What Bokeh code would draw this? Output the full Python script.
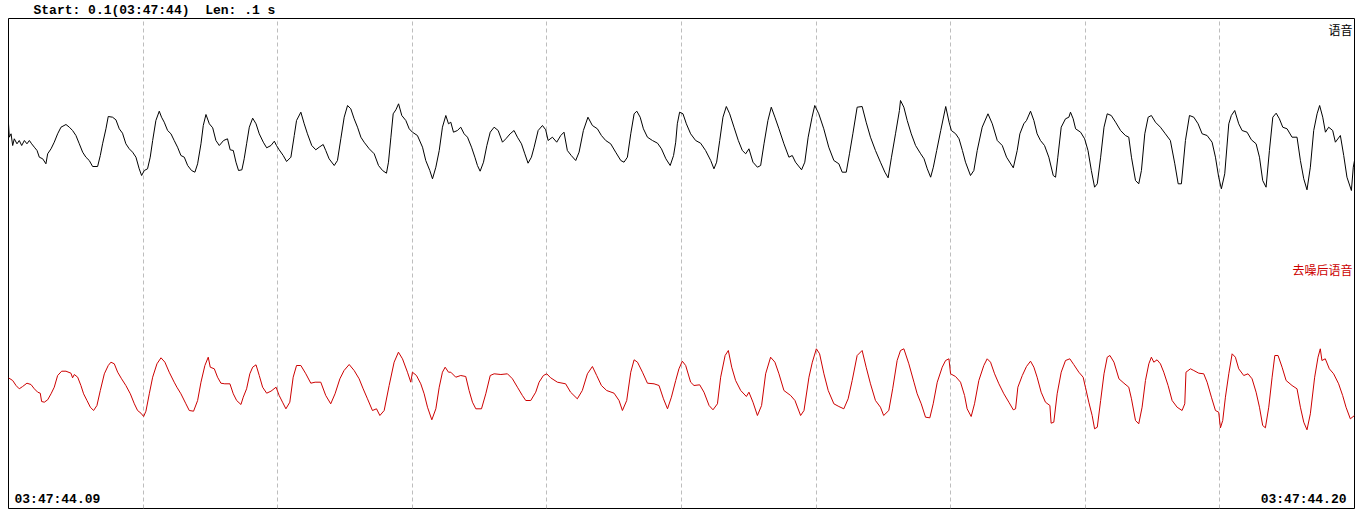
from bokeh.plotting import figure
from bokeh.models import Range1d, Label, FixedTicker
from bokeh.embed import file_html
from bokeh.resources import INLINE

# ---------------- data ----------------
title_text = "Start: 0.1(03:47:44)\u00a0\u00a0Len: .1 s"
start_label = "03:47:44.09"
end_label = "03:47:44.20"
channel_names = ["语音", "去噪后语音"]
grid_ms = [10, 20, 30, 40, 50, 60, 70, 80, 90]

# time in ms from window start, amplitude in display units
black_t = [0.0, 0.06, 0.19, 0.31, 0.43, 0.63, 0.80, 0.98, 1.18, 1.37, 1.55, 1.72, 1.92, 2.12, 2.29, 2.54, 2.78, 2.91,
           3.16, 3.40, 3.65, 3.90, 4.27, 4.52, 4.76, 5.01, 5.26, 5.51, 5.75, 6.00, 6.25, 6.62, 6.82, 6.99, 7.24, 7.41,
           7.73, 7.98, 8.23, 8.47, 8.72, 8.97, 9.22, 9.47, 9.71, 9.89, 10.09, 10.33, 10.53, 10.71, 10.95, 11.20, 11.37,
           11.57, 11.82, 12.07, 12.31, 12.56, 12.81, 13.06, 13.31, 13.60, 13.85, 14.05, 14.30, 14.47, 14.67, 14.92,
           15.17, 15.41, 15.66, 15.98, 16.27, 16.47,
           16.70, 16.90, 17.09, 17.34, 17.51, 17.69, 17.89, 18.14, 18.39, 18.63, 18.93, 19.18, 19.50, 19.75, 19.91,
           20.11, 20.41, 20.66, 20.98, 21.23, 21.40, 21.72, 21.97, 22.21, 22.53, 22.83, 23.08, 23.38, 23.57, 23.82,
           24.20, 24.44, 24.69, 24.94, 25.19, 25.43, 25.68, 25.93, 26.18, 26.42, 26.80, 27.17, 27.49, 27.79, 28.08,
           28.23, 28.41, 28.58, 28.78, 28.98, 29.22, 29.52, 29.77, 30.01, 30.38, 30.76, 31.00, 31.30, 31.50, 31.75,
           32.00, 32.24, 32.49, 32.69,
           32.86, 33.06, 33.35, 33.60, 33.85, 34.10, 34.40, 34.65, 34.84, 35.04, 35.29, 35.54, 35.79, 36.08, 36.38,
           36.70, 36.95, 37.27, 37.56, 37.81, 38.11, 38.36, 38.60, 38.85, 39.05, 39.35, 39.67, 39.91, 40.09, 40.41,
           40.73, 41.03, 41.27, 41.52, 41.81, 42.14, 42.39, 42.71, 43.05, 43.38, 43.75, 44.05, 44.37, 44.74, 45.11,
           45.49, 45.73, 45.98, 46.23, 46.48, 46.68, 46.93, 47.17, 47.47, 47.84, 48.22, 48.51, 48.84, 49.16, 49.41,
           49.57, 49.69, 49.86, 50.11, 50.36, 50.68, 51.05, 51.42, 51.79, 52.17, 52.41, 52.61, 52.84, 53.08, 53.33,
           53.58, 53.90, 54.22, 54.52, 54.77, 55.01, 55.31, 55.64, 55.88, 56.13, 56.42, 56.67, 56.94, 57.24, 57.61,
           57.98, 58.23, 58.47, 58.92, 59.16, 59.41, 59.70, 59.90, 60.20, 60.57, 60.94, 61.32, 61.69, 61.94, 62.24,
           62.48, 62.73, 63.05, 63.42, 63.72, 64.04, 64.41, 64.78, 65.11, 65.35, 65.60, 65.90, 66.19,
           66.27, 66.52, 66.77, 67.07, 67.39, 67.77, 68.02, 68.26, 68.51, 68.71, 68.96, 69.26, 69.63, 69.88, 70.05,
           70.37, 70.62, 70.87, 71.10, 71.47, 71.72, 71.97, 72.34, 72.77, 73.09, 73.46, 73.83, 74.15, 74.65, 74.94,
           75.14, 75.43, 75.63, 75.93, 76.18, 76.42, 76.67, 76.97, 77.29, 77.62, 77.79, 77.96, 78.21, 78.53, 78.78,
           78.90, 79.10, 79.28, 79.65, 79.95, 80.20, 80.45, 80.69, 80.89, 81.14, 81.39, 81.63, 81.93, 82.25, 82.62,
           82.98, 83.23, 83.43, 83.73, 83.97, 84.17, 84.42, 84.67, 84.91, 85.21, 85.58, 85.95, 86.32, 86.65, 86.90,
           87.14, 87.44, 87.74, 88.06, 88.38, 88.68, 89.05, 89.42, 89.67, 89.91, 90.11, 90.36, 90.66, 90.85, 91.10,
           91.40, 91.65, 92.02, 92.34, 92.69, 92.94, 93.18, 93.43, 93.68, 93.93, 94.18, 94.42, 94.67, 94.99, 95.36,
           95.73, 95.98, 96.23, 96.47, 96.72, 96.97, 97.22, 97.41, 97.64, 97.84, 98.08, 98.38, 98.58, 98.95, 99.20,
           99.44, 99.77, 99.91, 100.0]
black_v = [16.7, 3.3, 6.7, -5, 1.7, -3.3, 0, -5, 0, -3.3, 0, -3.3, -6.7, -10, -16.7, -18.3, -23.3, -13.3,
           -8.3, -1.7, 6.7, 13.3, 16, 13.3, 10, 5, -3.3, -11.7, -16.7, -20, -26, -26, -15, -3.3, 11.7, 24,
           23.3, 20.7, 11.7, 7.3, -3.3, -8.3, -11.7, -16.7, -28.3, -35, -30, -28.3, -16.7, 0, 20, 29.3, 23.3,
           18.3, 10, 6.7, 0, -6.7, -15, -16.7, -25, -30, -31.7, -23.3, -3.3, 15, 26, 16.7,
           12.7, 0, -5, 0, 1.7, -9.3,
           -10, -21.7, -30, -29.3, -18.3, -3.3, 13.3, 22.3, 16.7, 6.7, -1.7, -7.3, -5, -0.7, -5,
           -9.3, -15, -21, -16.7, 5, 20, 28.3, 16.7, 6.7, -5, -9.3, -6.7, -4, -10, -18.3,
           -25, -20, 1.7, 23.3, 35, 31.7, 21.7, 13.3, 3.3, -1.7, -8.3, -13.3, -25, -30, -32.7,
           -21.7, 3.3, 26.7, 30.7, 36.7, 25, 20, 11.7, 8.3, 5, -6.7, -20, -30, -38.3, -26.7,
           -10, 13.3, 25, 16.7,
           18.3, 8.3, 10, 13.3, 6.7, 3.3, -6.7, -16.7, -25, -30.7, -21.7, -5, 8.3, 13.3, 10,
           -1.7, 1.7, 6.7, 10, 3.3, -3.3, -13.3, -22.7, -16.7, -6.7, 10, 15, 10.7, 0, 3.3,
           -1.7, 5, 8.3, -10, -15, -20, -11.7, 10, 23.3, 15, 11.7, 5, 0, -3.3, -11.7,
           -20, -21.7, -16.7, 6.7, 26.7, 29.3, 23.3, 11.7, 3.3, 0, -2.7, -8.3, -18.3, -25, -15,
           -1.7, 16.7, 28.3, 26.7, 16.7, 6.7, 0, -2.7, -10, -20, -28.3, -21.7, 0, 23.3, 34,
           26.7, 13.3, 0, -10, -13.3, -8.3, -21.7, -26.7, -25, -3.3, 20, 33.3, 23.3, 11.7, -3.3,
           -16.7, -15, -21.7, -29.3, -21.7, 3.3, 23.3, 35, 26.7, 11.7, -6.7, -20, -23.3, -31.7, -31.7,
           -13.3, 6.7, 33.3, 34, 18.3, 3.3, -10, -21.7, -31.7, -37.3, -16.7, 6.7, 30,
           40, 33.3, 20, 6.7, -5, -13.3, -18.3, -28.3, -36.7, -26.7, -10, 10, 34, 18.3, 10,
           6.7, 1.7, -10, -21.7, -35, -30, -10, 13.3, 26.7, 16.7, 0, -5, -16.7, -27.3, -10,
           6.7, 16.7, 20, 29.3, 20, 6.7, 0, -5, -16.7, -35, -36.7, -16.7, 13.3, 21.7, 23.3,
           28.3, 21.7, 11.7, 8.3, 1.7, -10, -30, -46.7, -43.3, -16.7, 13.3, 26.7, 25, 18.3, 10,
           5, 3.3, -16.7, -40, -43.3, -30, 6.7, 23.3, 25, 18.3, 13.3, 6.7, 0, -23.3, -43.3,
           -43.3, 0, 25, 23.3, 16.7, 6.7, 5, -1.7, -16.7, -36.7, -48.3, -33.3, 16.7, 25, 30,
           16.7, 10, 8.3, 0.7, -3.3, -16.7, -40, -46.7, -10, 23.3, 27.3, 21.7, 13.3, 11.7, 3.3,
           3.3, -20, -38.3, -49.3, -26.7, 10, 26.7, 35, 23.3, 8.3, 13.3, 10, -1.7, 5, -15,
           -36.7, -50, -26.7, -20]

red_t = [0.0, 0.31, 0.56, 0.80, 1.05, 1.37, 1.67, 1.92, 2.17, 2.36, 2.46, 2.66, 2.91, 3.16, 3.40, 3.65, 3.95, 4.27,
         4.64, 4.76, 4.89, 5.14, 5.38, 5.58, 5.83, 6.08, 6.32, 6.57, 6.82, 7.12, 7.41, 7.61, 7.86, 8.11, 8.40, 8.72,
         9.05, 9.35, 9.59, 9.84, 10.04, 10.21, 10.46, 10.71, 11.03, 11.33, 11.62, 11.94, 12.31, 12.51, 12.81, 13.18,
         13.43, 13.75, 14.05, 14.30, 14.59, 14.84, 14.99, 15.29, 15.53, 15.78, 16.07,
         16.45, 16.70, 16.95, 17.27, 17.44, 17.69, 17.93, 18.14, 18.39, 18.63, 18.88, 19.18, 19.50, 19.88, 20.11,
         20.36, 20.61, 20.90, 21.15, 21.40, 21.72, 22.09, 22.46, 22.78, 23.20, 23.57, 23.94, 24.26, 24.62, 24.93,
         25.31, 25.68, 26.05, 26.35, 26.67, 27.04, 27.34, 27.59, 27.91, 28.28, 28.65, 28.97, 29.27, 29.64, 29.89,
         30.01, 30.31, 30.63, 30.88, 31.13, 31.45, 31.75, 32.00, 32.24, 32.44, 32.69,
         32.86, 33.23, 33.60, 33.97, 34.22, 34.47, 34.72, 35.14, 35.46, 35.79, 36.08, 36.58, 37.07, 37.44, 37.81,
         38.18, 38.43, 38.80, 39.17, 39.42, 39.74, 39.99, 40.28, 40.78, 41.39, 41.76, 42.26, 42.63, 43.01, 43.38,
         43.70, 44.05, 44.44, 44.99, 45.36, 45.61, 45.93, 46.23, 46.48, 46.73, 47.10, 47.47, 47.96, 48.33, 48.66,
         48.96, 49.25,
         49.57, 49.81, 50.06, 50.31, 50.68, 50.93, 51.35, 51.67, 52.05, 52.34, 52.67, 52.91, 53.24, 53.48, 53.73,
         54.02, 54.40, 54.82, 55.01, 55.31, 55.64, 55.95, 56.25, 56.62, 56.94, 57.24, 57.61, 58.11, 58.43, 58.85,
         59.10, 59.47, 59.72, 60.02, 60.26, 60.58, 60.90, 61.32, 61.69, 62.06, 62.38, 62.68, 63.05, 63.42, 63.72,
         64.04, 64.41, 64.78, 65.02, 65.40, 65.69, 66.02,
         66.27, 66.52, 66.89, 67.27, 67.51, 67.81, 68.13, 68.45, 68.70, 69.00, 69.37, 69.62, 69.87, 69.99, 70.36,
         70.73, 71.03, 71.22, 71.52, 71.77, 72.09, 72.46, 72.71, 72.96, 73.26, 73.58, 73.95, 74.32, 74.65, 74.82,
         74.99, 75.32, 75.63, 75.93, 76.18, 76.42, 76.72, 77.04, 77.37, 77.46, 77.66, 77.91, 78.21, 78.53, 78.85,
         79.14, 79.52, 79.84, 80.01, 80.26, 80.51, 80.69, 80.89, 81.14, 81.39, 81.63, 81.83, 82.13, 82.50, 82.87,
         83.23, 83.43, 83.73, 83.97, 84.22, 84.47, 84.72, 84.91, 85.09, 85.33, 85.58, 85.83, 86.15, 86.45, 86.82,
         87.19, 87.39, 87.48, 87.81, 88.06, 88.43, 88.80, 89.05, 89.37, 89.67, 89.91, 90.04, 90.21, 90.41, 90.66,
         90.91, 91.15, 91.40, 91.77, 92.09, 92.39, 92.69, 92.94, 93.18, 93.38, 93.63, 93.88, 94.08, 94.32, 94.62,
         94.92, 95.36, 95.73, 95.98, 96.23, 96.47, 96.72, 97.04, 97.29, 97.46, 97.58, 97.83, 98.13, 98.45, 98.82,
         99.12, 99.37, 99.69, 100.0]
red_v = [12.7, 10, 5, 1.7, 4, 7.3, 6, 1.7, -1.7, -2.7, -11, -11.7, -9.3, -3.3, 3.3, 15, 19.3, 19.3,
         17.3, 12.7, 16, 13.3, 5, -3.3, -10, -16.7, -20, -15, 0, 16.7, 25, 28.3, 26.7, 18.3, 11.7, 5,
         -3.3, -13.3, -20, -22.7, -26, -20.7, -3.3, 13.3, 26.7, 32.7, 28.3, 18.3, 8.3, 3.3, -3.3, -13.3,
         -20, -20.7, -10, 8.3, 25, 33.3, 23.3, 21.7, 13.3, 7.3, 6.7,
         6.7, -3.3, -10, -14, -6.7, 1.7, 16.7, 23.3, 25.7, 15, 3.3, -2.7, -0.7, 3.3, -5,
         -11.7, -18.3, -11.7, 13.3, 25, 25, 16.7, 7.3, 8.3, 8.3, -5, -13.3, -3.3, 11.7, 20,
         26, 20, 11.7, 1.7, -8.3, -20, -18.3, -25, -20, 5, 28.3, 38.3, 31.7, 18.3, 8.3,
         18.3, 15, 6.7, -3.3, -16.7, -29.3, -18.3, 3.3, 18.3, 23.3, 18.3,
         18.3, 13.3, 15, 14, 0, -11.7, -18.3, -18.3, -3.3, 15, 16.7, 16, 16.7, 11.7, 3.3,
         -5, -10, -10, -1.7, 8.3, 15, 16.7, 12.7, 8.3, 6.7, -1.7, -8.3, 0, 16.7, 24,
         15, 5, 0, -2.7, -10, -20, -10, 18.3, 30.7, 28.3, 18.3, 7.3, 6.7, 5, -8.3,
         -18.3, -6.7,
         10, 21.7, 29.3, 25, 8.3, 5, 5.7, -1.7, -15, -19.3, -13.3, 13.3, 35, 40, 23.3,
         10, 0, -6, -1.7, -11.7, -25, -15, 16.7, 33.3, 28.3, 16.7, 0, -5, -10, -25,
         -20, 13.3, 28.3, 41.7, 36.7, 16.7, 0, -13.3, -16, -18.3, -8.3, 10, 35, 40, 23.3,
         6.7, -10, -16.7, -25, -20, 1.7, 30,
         40, 41.7, 26.7, 8.3, -3.3, -13.3, -26.7, -27.3, -13.3, 8.3, 23.3, 30, 31.7, 16.7, 14,
         8.3, -5, -18.3, -26, -13.3, 10, 25, 31.7, 28.3, 16.7, 6.7, -3.3, -11.7, -19.3, -18.3,
         3.3, 15, 24, 29.3, 23.3, 13.3, -1.7, -11.7, -15, -32.7, -31.7, -3.3, 18.3, 30, 31.7,
         26, 18.3, 13.3, 3.3, -11.7, -25, -38.3, -36.7, -10, 16.7, 33.3, 35, 28.3, 11.7, 7.3,
         3.3, -8.3, -30, -33.3, -16.7, 10, 26.7, 33.3, 28.3, 30.7, 26.7, 18.3, 5, -10, -16.7,
         -20, -13.3, 18.3, 21.7, 20, 17.3, 16.7, 8.3, -6.7, -20, -21.7, -37.3, -30, -6.7, 16.7,
         36.7, 33.3, 21.7, 15, 16.7, 11.7, -1.7, -16.7, -35, -37.3, -16.7, 13.3, 35, 35, 23.3,
         10, 5, 1.7, -16.7, -31.7, -39.3, -23.3, 13.3, 33.3, 41.7, 30, 31.7, 21.7, 16.7, 6.7,
         -5, -16.7, -28.3, -25]

# ---------------- layout ----------------
FRAME_H = 490
black_base = -122   # channel 1 centre line (display units below top of frame)
red_base = -372     # channel 2 centre line
red_label_y = -251

mono = "Liberation Mono"

p = figure(width=1360, height=514, x_range=Range1d(0, 100), y_range=Range1d(-FRAME_H, 0),
           output_backend="svg", toolbar_location=None,
           min_border_left=8, min_border_right=6, min_border_top=18, min_border_bottom=6)
p.title.text = title_text
p.title.text_font = mono
p.title.text_font_size = "13px"
p.title.text_font_style = "bold"
p.title.text_color = "black"
p.title.offset = 25
p.title.standoff = 1
p.title.text_line_height = 1.0

p.xaxis.visible = False
p.yaxis.visible = False
p.ygrid.visible = False
p.xgrid.ticker = FixedTicker(ticks=grid_ms)
p.xgrid.grid_line_color = "#bdbdbd"
p.xgrid.grid_line_dash = "4 3"
p.xgrid.grid_line_width = 1
p.outline_line_color = "black"
p.outline_line_width = 1
p.outline_line_alpha = 1
p.background_fill_color = "white"
p.border_fill_color = "white"

p.line(black_t, [black_base + v for v in black_v], line_color="black", line_width=1)
p.line(red_t, [red_base + v for v in red_v], line_color="#cc0000", line_width=1)

p.add_layout(Label(x=0, y=-FRAME_H, x_offset=6, y_offset=9, text=start_label, text_font=mono,
                   text_font_size="13px", text_font_style="bold", text_baseline="alphabetic",
                   text_color="black"))
p.add_layout(Label(x=100, y=-FRAME_H, x_offset=-8, y_offset=9, text=end_label, text_font=mono,
                   text_font_size="13px", text_font_style="bold", text_baseline="alphabetic",
                   text_align="right", text_color="black"))
p.add_layout(Label(x=100, y=0, x_offset=-2, y_offset=-2, text=channel_names[0],
                   text_font="Noto Sans CJK SC", text_font_size="12px", text_baseline="top",
                   text_align="right", text_color="black"))
p.add_layout(Label(x=100, y=red_label_y, x_offset=-2, text=channel_names[1],
                   text_font="Noto Sans CJK SC", text_font_size="12px", text_baseline="middle",
                   text_align="right", text_color="#cc0000"))

open("out.html", "w").write(file_html(p, INLINE))
